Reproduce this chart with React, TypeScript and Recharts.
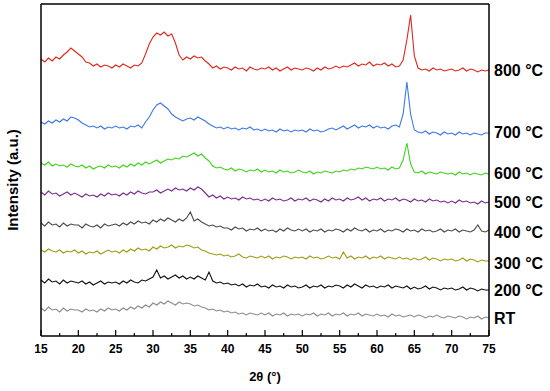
import React from "react";
import { LineChart, Line, XAxis, YAxis } from "recharts";

// 2θ grid, 15° to 75° every 0.5°
const twoTheta: number[] = Array.from({ length: 121 }, (_, i) => 15 + i * 0.5);

// intensities (a.u., already stacked)
const s800 = [
  277, 274, 278, 275, 279, 277, 281, 284, 288, 285,
  282, 279, 274, 273, 270, 272, 269, 271, 270, 268,
  271, 269, 272, 270, 268, 271, 270, 273, 282, 292,
  299, 303, 301, 304, 300, 302, 293, 281, 276, 279,
  277, 280, 278, 279, 275, 272, 268, 270, 267, 269,
  268, 266, 269, 267, 268, 265, 269, 267, 266, 268,
  267, 269, 266, 268, 265, 267, 269, 266, 268, 267,
  266, 268, 267, 265, 268, 266, 269, 267, 268, 270,
  268, 270, 269, 271, 273, 270, 272, 271, 274, 270,
  272, 271, 273, 270, 272, 269, 270, 276, 296, 321,
  280, 268, 266, 267, 265, 268, 266, 267, 265, 266,
  267, 265, 266, 268, 265, 267, 266, 264, 266, 265,
  266,
];
const s700 = [
  214, 212, 215, 213, 216, 214, 217, 215, 219, 218,
  216, 213, 211, 209, 210, 208, 210, 207, 209, 208,
  210, 208, 209, 207, 210, 209, 211, 208, 214, 219,
  226, 231, 233, 230, 227, 222, 219, 217, 215, 217,
  218, 216, 219, 217, 215, 212, 210, 208, 209, 207,
  209, 207, 208, 206, 208, 207, 209, 206, 207, 205,
  207, 205, 206, 204, 207, 205, 206, 204, 206, 205,
  206, 204, 207, 205, 206, 204, 205, 207, 208, 206,
  208, 210, 207, 209, 211, 208, 210, 209, 211, 208,
  210, 208, 209, 207, 210, 211, 209, 222, 254, 222,
  206, 204, 203, 205, 202, 204, 203, 201, 204, 202,
  203, 201, 204, 202, 203, 201, 203, 202, 201, 203,
  203,
];
const s600 = [
  173, 171, 174, 170, 172, 170, 171, 169, 172, 170,
  169, 171, 168, 170, 167, 169, 170, 168, 171, 169,
  170, 168, 171, 169, 172, 170, 173, 171, 174, 172,
  174, 176, 173, 175, 177, 176, 178, 177, 180, 179,
  181, 183, 180, 182, 178, 175, 170, 168, 169, 167,
  166, 168, 165, 167, 166, 164, 166, 165, 167, 164,
  166, 164, 165, 163, 166, 164, 165, 163, 164, 166,
  164, 163, 165, 162, 164, 163, 165, 164, 163, 165,
  164, 166, 165, 167, 166, 168, 167, 169, 168, 167,
  169, 167, 168, 166, 169, 167, 168, 176, 193, 172,
  164, 163, 165, 162, 164, 163, 162, 164, 163, 162,
  163, 161, 164, 162, 163, 161, 163, 162, 161, 163,
  162,
];
const s500 = [
  144, 141, 145, 142, 143, 140, 142, 144, 141, 143,
  141, 139, 142, 140, 141, 139, 142, 140, 143, 141,
  142, 140, 143, 141, 144, 142, 145, 143, 142, 144,
  144, 146, 143, 145, 147, 145, 148, 146, 147, 145,
  148, 146, 149, 147, 143, 139, 141, 138, 140, 137,
  139, 137, 138, 136, 139, 137, 138, 136, 137, 135,
  137, 135, 138, 136, 137, 135, 136, 138, 135, 137,
  136, 138, 135, 137, 136, 134, 137, 135, 138, 136,
  137, 135, 138, 136, 137, 139, 136, 138, 135, 137,
  136, 138, 135, 137, 136, 138, 135, 137, 136, 134,
  137, 135, 136, 134, 137, 135, 136, 134, 135, 133,
  135, 133, 136, 134, 135, 133, 134, 132, 135, 133,
  134,
];
const s400 = [
  113, 110, 114, 111, 112, 109, 113, 110, 112, 111,
  111, 108, 112, 110, 109, 111, 108, 112, 110, 111,
  112, 110, 113, 111, 114, 112, 115, 113, 114, 112,
  116, 114, 117, 115, 118, 116, 114, 117, 115, 118,
  124, 115, 117, 114, 112, 110, 111, 109, 110, 108,
  108, 106, 109, 107, 108, 105, 107, 106, 108, 105,
  107, 105, 106, 104, 107, 105, 108, 106, 105, 107,
  105, 107, 104, 106, 105, 107, 104, 106, 105, 107,
  106, 104, 107, 105, 108, 106, 105, 107, 104, 106,
  105, 107, 104, 106, 105, 107, 106, 104, 107, 105,
  106, 104, 107, 105, 106, 104, 105, 107, 104, 106,
  105, 107, 104, 106, 105, 104, 106, 111, 105, 104,
  106,
];
const s300 = [
  86, 84, 87, 85, 84, 86, 83, 85, 84, 86,
  83, 85, 82, 84, 83, 85, 82, 84, 86, 84,
  85, 83, 86, 84, 87, 85, 88, 86, 87, 85,
  89, 87, 90, 88, 89, 91, 88, 90, 89, 91,
  90, 88, 89, 86, 85, 83, 82, 81, 82, 80,
  81, 79, 80, 82, 79, 78, 80, 79, 78, 80,
  78, 80, 77, 79, 78, 80, 79, 77, 79, 78,
  79, 77, 80, 78, 79, 77, 78, 80, 78, 79,
  77, 84, 78, 80, 77, 79, 78, 80, 77, 79,
  78, 80, 77, 79, 78, 77, 79, 77, 78, 76,
  78, 76, 77, 79, 76, 78, 77, 75, 77, 76,
  77, 75, 76, 78, 75, 77, 76, 74, 76, 75,
  75,
];
const s200 = [
  56, 53, 57, 54, 55, 52, 56, 53, 55, 54,
  53, 55, 52, 54, 51, 53, 55, 52, 54, 53,
  54, 52, 55, 53, 56, 54, 53, 56, 55, 57,
  59, 66, 58, 60, 57, 59, 61, 58, 60, 57,
  59, 57, 60, 58, 56, 64, 55, 53, 54, 52,
  53, 51, 52, 50, 52, 49, 51, 50, 52, 49,
  50, 48, 51, 49, 50, 48, 51, 49, 50, 48,
  49, 51, 48, 50, 49, 51, 48, 50, 49, 51,
  50, 48, 51, 49, 52, 50, 48, 51, 49, 50,
  48, 50, 49, 51, 48, 50, 49, 48, 50, 47,
  49, 47, 48, 50, 47, 49, 48, 46, 48, 47,
  48, 46, 47, 49, 46, 48, 47, 45, 47, 46,
  46,
];
const sRT = [
  28, 25, 29, 26, 27, 24, 28, 25, 27, 26,
  26, 24, 27, 25, 26, 24, 27, 25, 28, 26,
  27, 25, 28, 26, 29, 27, 30, 28, 31, 29,
  33, 31, 34, 32, 35, 33, 31, 34, 32, 33,
  32, 30, 31, 29, 28, 26, 27, 25, 26, 24,
  25, 23, 24, 22, 23, 21, 23, 22, 21, 23,
  21, 23, 20, 22, 21, 23, 20, 22, 21, 22,
  20, 22, 21, 23, 20, 22, 21, 23, 20, 22,
  21, 23, 20, 22, 21, 23, 20, 22, 21, 20,
  22, 20, 21, 19, 22, 20, 21, 19, 20, 21,
  19, 21, 20, 18, 20, 19, 21, 19, 18, 20,
  19, 18, 20, 19, 17, 19, 18, 20, 17, 19,
  18,
];

const seriesKeys = ["RT", "200", "300", "400", "500", "600", "700", "800"];
const seriesColors = ["#8c8c8c", "#111111", "#9c9c14", "#4a4a4a", "#7b2a8f", "#3fd21a", "#3a78e6", "#e0261c"];
const seriesValues = [sRT, s200, s300, s400, s500, s600, s700, s800];
const seriesLabels = ["RT", "200 °C", "300 °C", "400 °C", "500 °C", "600 °C", "700 °C", "800 °C"];
const labelPos = [18, 46, 73, 104, 134, 163, 204, 266];

// major ticks every 5°, minor in between
const xTicks = [15, 17.5, 20, 22.5, 25, 27.5, 30, 32.5, 35, 37.5, 40, 42.5, 45, 47.5, 50, 52.5, 55, 57.5, 60, 62.5, 65, 67.5, 70, 72.5, 75];

const data = twoTheta.map((x, i) => {
  const row: Record<string, number> = { x };
  seriesKeys.forEach((k, j) => (row[k] = seriesValues[j][i]));
  return row;
});

const font = "'Liberation Sans', Arial, sans-serif";
const axisStroke = { stroke: "#000", strokeWidth: 1.5 };

// ticks point up into the plot; only whole multiples of 5 get a label
const XTick = (props: any) => {
  const { x, y, payload } = props;
  const v = payload.value as number;
  const major = v % 5 === 0;
  return (
    <g>
      <line x1={x} x2={x} y1={y} y2={y - (major ? 6 : 3)} stroke="#000" strokeWidth={1.2} />
      {major && (
        <text x={x} y={y + 17} textAnchor="middle" fill="#000" fontSize={12} fontWeight={700} fontFamily={font}>
          {v}
        </text>
      )}
    </g>
  );
};

// sample names written at the right end of each trace
const NameTick = (props: any) => {
  const { x, y, payload } = props;
  const i = labelPos.indexOf(payload.value);
  return (
    <text x={x} y={y + 5.5} textAnchor="start" fill="#000" fontSize={16} fontWeight={700} fontFamily={font}>
      {seriesLabels[i] ?? ""}
    </text>
  );
};

export default function App() {
  return (
    <div style={{ position: "absolute", left: 0, top: 0, width: 550, height: 391, background: "#fff", fontFamily: font }}>
      <LineChart width={550} height={391} data={data} margin={{ top: 3, right: 1, bottom: 25, left: 40 }}>
        <XAxis
          xAxisId="main"
          dataKey="x"
          type="number"
          domain={[15, 75]}
          ticks={xTicks}
          interval={0}
          height={30}
          tickSize={0}
          tickMargin={0}
          axisLine={axisStroke}
          tickLine={false}
          tick={<XTick />}
        />
        <XAxis
          xAxisId="top"
          orientation="top"
          dataKey="x"
          type="number"
          domain={[15, 75]}
          height={1}
          axisLine={axisStroke}
          tick={false}
          tickLine={false}
        />
        <YAxis yAxisId="left" type="number" domain={[0, 332]} width={1} tick={false} tickLine={false} axisLine={axisStroke} />
        <YAxis
          yAxisId="right"
          orientation="right"
          type="number"
          domain={[0, 332]}
          allowDataOverflow
          width={60}
          ticks={labelPos}
          interval={0}
          tickSize={0}
          tickMargin={5}
          tickLine={false}
          axisLine={axisStroke}
          tick={<NameTick />}
        />
        {seriesKeys.map((k, j) => (
          <Line
            key={k}
            xAxisId="main"
            yAxisId="right"
            type="linear"
            dataKey={k}
            stroke={seriesColors[j]}
            strokeWidth={1.1}
            dot={false}
            isAnimationActive={false}
          />
        ))}
      </LineChart>
      <div
        style={{
          position: "absolute",
          left: 12,
          top: 180,
          transform: "translate(-50%, -50%) rotate(-90deg)",
          whiteSpace: "nowrap",
          fontSize: 15,
          fontWeight: 700,
        }}
      >
        Intensity (a.u.)
      </div>
      <div
        style={{
          position: "absolute",
          left: 265,
          top: 376,
          transform: "translate(-50%, -50%)",
          whiteSpace: "nowrap",
          fontSize: 13,
          fontWeight: 700,
        }}
      >
        2θ (°)
      </div>
    </div>
  );
}
